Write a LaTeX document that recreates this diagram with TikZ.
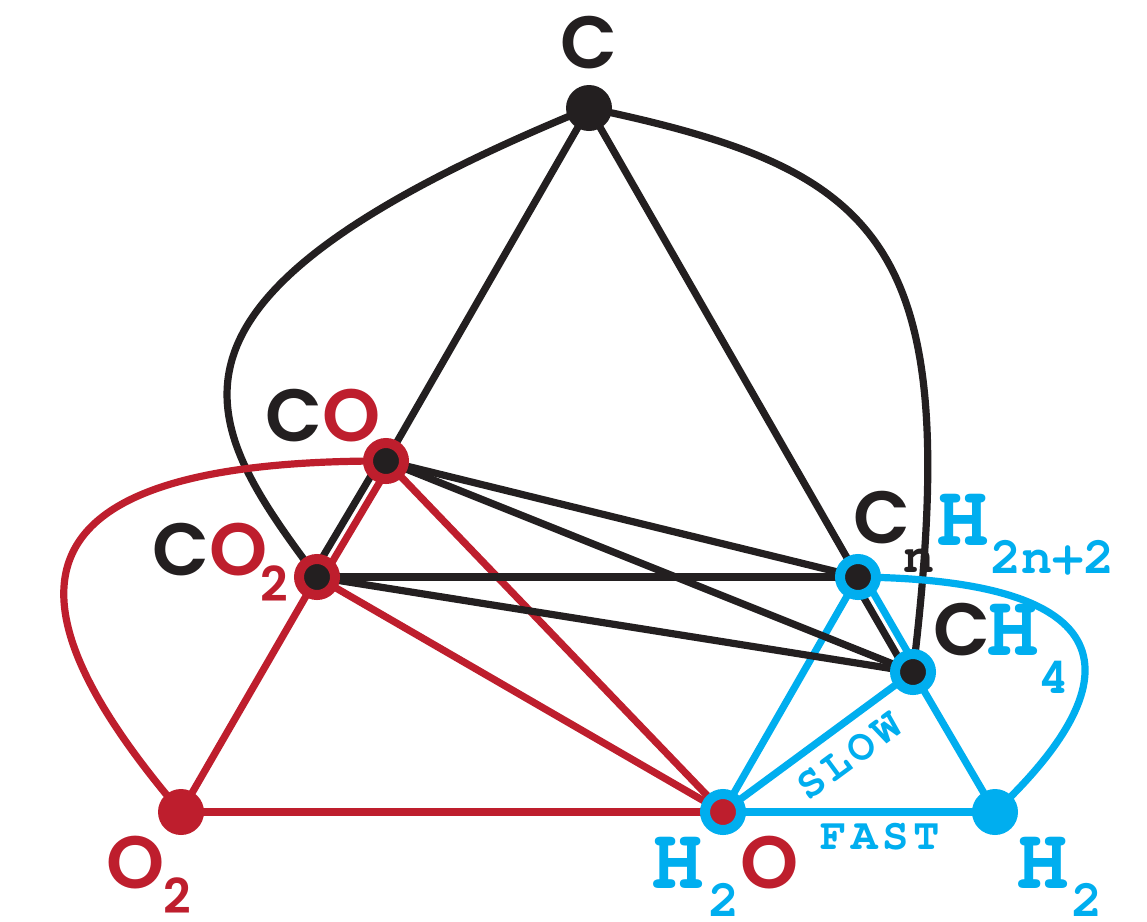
\documentclass[tikz,border=0pt]{standalone}
\usepackage{fontspec}
\IfFontExistsTF{Poppins SemiBold}
 {\newfontfamily\popfont{Poppins}[BoldFont={Poppins SemiBold}]}
 {\newfontfamily\popfont{Poppins}}
\IfFontExistsTF{texgyrecursor-bold.otf}
 {\newfontfamily\mnfont{texgyrecursor-bold.otf}[BoldFont=texgyrecursor-bold.otf]}
 {\newfontfamily\mnfont{DejaVu Sans Mono}}
\definecolor{cred}{HTML}{BE1E2D}
\definecolor{cblue}{HTML}{00AEEF}
\definecolor{cblack}{HTML}{231F20}
\newcommand\bigpop[1]{{\popfont\bfseries\fontsize{74}{74}\selectfont #1}}
\newcommand\subpop[1]{{\popfont\bfseries\fontsize{48}{48}\selectfont #1}}
\newcommand\bigmn[1]{{\mnfont\bfseries\fontsize{88}{88}\selectfont #1}}
\newcommand\submn[1]{{\mnfont\bfseries\fontsize{52}{52}\selectfont #1}}
\newcommand\tagmn[1]{{\mnfont\bfseries\fontsize{44}{44}\selectfont\addfontfeature{LetterSpace=10} #1}}
\tikzset{
 edge/.style={line width=7.2pt},
 blk/.style={edge, draw=cblack},
 rd/.style={edge, draw=cred},
 bl/.style={edge, draw=cblue},
 dotfill/.style={circle, fill=#1, inner sep=0pt, minimum size=46pt},
 ring/.style 2 args={circle, draw=#1, fill=#2, line width=10pt, inner sep=0pt, minimum size=36pt},
 lbl/.style={inner sep=0pt, anchor=base west},
}
\begin{document}
\begin{tikzpicture}[x=1pt,y=-1pt]
\path[use as bounding box, fill=white] (0,0) rectangle (1147,921);
% centres
\coordinate (C) at (589,108);
\coordinate (CO) at (386,461);
\coordinate (CO2) at (317,577);
\coordinate (Cn) at (858,577);
\coordinate (CH4) at (913,672);
\coordinate (O2) at (181,812);
\coordinate (H2O) at (723,812);
\coordinate (H2) at (995,812);
% curved connectors
\draw[blk] (C) .. controls (120,300) and (200,420) .. (CO2);
\draw[blk] (C) .. controls (885,170) and (965,240) .. (CH4);
\draw[rd] (O2) .. controls (0,600) and (0,460) .. (CO);
\draw[bl] (Cn) .. controls (1135,580) and (1130,685) .. (H2);
% red edges
\draw[rd] (CO) -- (H2O);
\draw[rd] (CO2) -- (H2O);
\draw[rd] (CO2) -- (O2);
\draw[rd] (O2) -- (H2O);
% blue edges
\draw[bl] (Cn) -- (H2O);
\draw[bl] (CH4) -- (H2O);
\draw[bl] (H2O) -- (H2);
\draw[bl] (CH4) -- (H2);
% black edges
\draw[blk] (C) -- (CO);
\draw[blk] (C) -- (Cn);
\draw[blk] (CO) -- (Cn);
\draw[blk] (CO) -- (CH4);
\draw[blk] (CO2) -- (Cn);
\draw[blk] (CO2) -- (CH4);
% parallel pairs
\draw[blk] ([shift={(-4.6,-2.75)}]CO) -- ([shift={(-4.6,-2.75)}]CO2);
\draw[rd] ([shift={(4.6,2.75)}]CO) -- ([shift={(4.6,2.75)}]CO2);
\draw[blk] ([shift={(-4.6,2.65)}]Cn) -- ([shift={(-4.6,2.65)}]CH4);
\draw[bl] ([shift={(4.6,-2.65)}]Cn) -- ([shift={(4.6,-2.65)}]CH4);
% dots
\node[dotfill=cblack] (Cdot) at (C) {};
\node[ring={cred}{cblack}] (COdot) at (CO) {};
\node[ring={cred}{cblack}] (CO2dot) at (CO2) {};
\node[ring={cblue}{cblack}] (Cndot) at (Cn) {};
\node[ring={cblue}{cblack}] (CH4dot) at (CH4) {};
\node[dotfill=cred] (O2dot) at (O2) {};
\node[ring={cblue}{cred}] (H2Odot) at (H2O) {};
\node[dotfill=cblue] (H2dot) at (H2) {};
% labels
\node[inner sep=0pt, anchor=base, text=cblack] (lC) at (589,68) {\bigpop{C}};
\node[lbl, text=cblack] (lCO) at (265,441) {\bigpop{C\textcolor{cred}{O}}};
\node[lbl, text=cblack] (lCO2) at (152,575) {\bigpop{C\textcolor{cred}{O}}};
\node[lbl, text=cred] (lCO2s) at (260,601) {\subpop{2}};
\node[lbl, text=cblack] (lCn) at (853,543) {\bigpop{C}};
\node[lbl, text=cblack] (lCnn) at (903,572) {\submn{n}};
\node[lbl, text=cblue] (lCnH) at (936,545) {\bigmn{H}};
\node[lbl, text=cblue] (lCnHs) at (990,573) {\submn{2n+2}};
\node[lbl, text=cblack] (lCH4) at (933,655) {\bigpop{C}};
\node[lbl, text=cblue] (lCH4H) at (986,655) {\bigmn{H}};
\node[lbl, text=cblue] (lCH4s) at (1038,693) {\submn{4}};
\node[lbl, text=cred] (lO2) at (106,888) {\bigpop{O}};
\node[lbl, text=cred] (lO2s) at (163,913) {\subpop{2}};
\node[lbl, text=cblue] (lH2O) at (651,888) {\bigmn{H}};
\node[lbl, text=cblue] (lH2Os) at (708,916) {\submn{2}};
\node[lbl, text=cred] (lH2OO) at (740,888) {\bigpop{O}};
\node[lbl, text=cblue] (lH2) at (1016,888) {\bigmn{H}};
\node[lbl, text=cblue] (lH2s) at (1071,916) {\submn{2}};
\node[inner sep=0pt, text=cblue, rotate=36.4] (slow) at (849,756) {\tagmn{SLOW}};
\node[inner sep=0pt, text=cblue] (fast) at (880,837) {\tagmn{FAST}};
\end{tikzpicture}
\end{document}
